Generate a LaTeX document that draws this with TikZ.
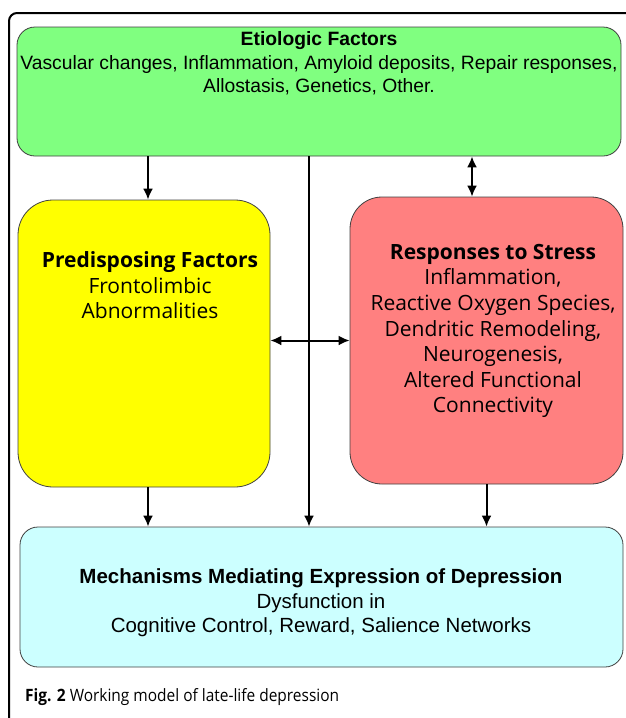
\documentclass[tikz,border=0pt]{standalone}
\usepackage{fontspec}
\setmainfont{Liberation Sans}
\newfontfamily\opensans{Open Sans}
\newfontfamily\capfont[FakeStretch=0.91]{Open Sans}
\usetikzlibrary{arrows.meta,positioning}
\definecolor{etiogreen}{HTML}{80FF80}
\definecolor{predyellow}{HTML}{FFFF00}
\definecolor{stressred}{HTML}{FF8080}
\definecolor{mechcyan}{HTML}{CCFFFF}
\begin{document}
\begin{tikzpicture}
		[x=1pt,y=-1pt,
		box/.style ={draw=black!75, line width=0.8pt, inner sep=0pt},
		txt/.style ={align=center, inner sep=0pt, font=\fontsize{19.3}{23.5}\selectfont},
		otxt/.style ={align=center, inner sep=0pt, font=\opensans\fontsize{21}{25.6}\selectfont},
		line/.style ={draw, line width=2pt, -{Latex[length=11pt,width=10pt]}},
		dline/.style ={line, {Latex[length=11pt,width=10pt]}-{Latex[length=11pt,width=10pt]}}]
		\useasboundingbox (0,0) rectangle (625,718);
		% outer frame
		\draw[line width=2pt, rounded corners=8pt] (9,730) |- (640,13);
		
		% boxes
		\node[box, fill=etiogreen, rounded corners=18pt, minimum width=604pt, minimum height=129pt] (etio) at (319,91.5) {};
		\node[box, fill=predyellow, rounded corners=35pt, minimum width=252pt, minimum height=287pt] (pre) at (144,343.5) {};
		\node[box, fill=stressred, rounded corners=32pt, minimum width=273pt, minimum height=287pt] (resp) at (486.5,340.5) {};
		\node[box, fill=mechcyan, rounded corners=18pt, minimum width=603pt, minimum height=140pt] (mech) at (321.5,597) {};
		
		% texts
		\node[txt] (etiotext) at (319,63.5) {\textbf{Etiologic Factors}\\Vascular changes, Inflammation, Amyloid deposits, Repair responses,\\Allostasis, Genetics, Other.};
		\node[otxt] (pretext) at (150,285.5) {\textbf{Predisposing Factors}\\Frontolimbic\\Abnormalities};
		\node[otxt] (resptext) at (493,331) {\textbf{Responses to Stress}\\Inflammation,\\Reactive Oxygen Species,\\Dendritic Remodeling,\\Neurogenesis,\\Altered Functional\\Connectivity};
		\node[txt, font=\fontsize{20.5}{24.5}\selectfont] (mechtext) at (321,603) {\textbf{Mechanisms Mediating Expression of Depression}\\Dysfunction in\\Cognitive Control, Reward, Salience Networks};
		\node[anchor=west, inner sep=0pt, font=\capfont\fontsize{17}{20}\selectfont] (caption) at (25,697) {\textbf{Fig. 2} Working model of late-life depression};
		
		% connectors
		\coordinate (left) at (148,0);
		\coordinate (mid) at (309,0);
		\coordinate (right) at (472,0);
		\path[line] (etio.south -| left) -- (pre.north -| left);
		\path[line] (etio.south -| mid) -- (mech.north -| mid);
		\path[dline] (etio.south -| right) -- (resp.north -| right);
		\path[dline] (resp.west -| pre.east) -- (resp.west);
		\path[line] (pre.south -| left) -- (mech.north -| left);
		\path[line] (resp.south) -- (mech.north -| resp.south);
	\end{tikzpicture}
\end{document}
